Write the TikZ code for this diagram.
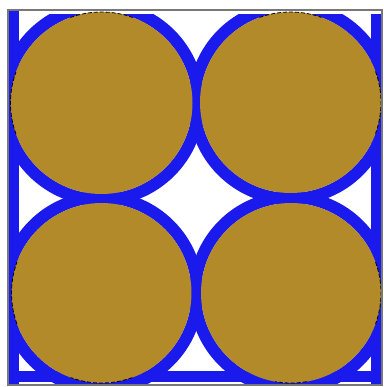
\documentclass[tikz,border=0pt]{standalone}
\definecolor{grain}{RGB}{178,138,42}
\definecolor{water}{RGB}{26,26,236}
\definecolor{framegray}{RGB}{120,120,120}
\begin{document}
\begin{tikzpicture}[x=1pt,y=-1pt,
  grainfill/.style={fill=grain},
  film/.style={draw=water,line width=12pt},
  band/.style={fill=water},
  outline/.style={draw=black,line width=0.8pt,dash pattern=on 4pt off 2pt}]
\useasboundingbox (0,0) rectangle (383,387);
\fill[white] (0,0) rectangle (383,387);
\begin{scope}
  \clip (8,10) rectangle (382,385);
  % water films along the sides
  \fill[band] (9,10) rectangle (19,385);
  \fill[band] (371,14) rectangle (381,385);
  \fill[band] (9,371) rectangle (381,382);
  % water films around the grains
  \begin{scope}
    \clip (8,15) rectangle (382,385);
    \draw[film] (101.5,103) circle (97);
    \draw[film] (290.5,102.5) circle (96.5);
    \draw[film] (101.5,293) circle (96);
    \draw[film] (291,293) circle (96);
  \end{scope}
  % grains
  \fill[grainfill] (101.5,103) circle (91);
  \fill[grainfill] (290.5,102.5) circle (90.5);
  \fill[grainfill] (101.5,293) circle (90);
  \fill[grainfill] (291,293) circle (90);
  % dashed grain outlines where they touch the box
  \draw[outline] (101.5,103) ++(-110:91) arc[start angle=-110,end angle=-70,radius=91];
  \draw[outline] (101.5,103) ++(160:91) arc[start angle=160,end angle=200,radius=91];
  \draw[outline] (290.5,102.5) ++(-110:90.5) arc[start angle=-110,end angle=-70,radius=90.5];
  \draw[outline] (290.5,102.5) ++(-20:90.5) arc[start angle=-20,end angle=20,radius=90.5];
  \draw[outline] (101.5,293) ++(160:90) arc[start angle=160,end angle=200,radius=90];
  \draw[outline] (101.5,293) ++(70:90) arc[start angle=70,end angle=110,radius=90];
  \draw[outline] (291,293) ++(-20:90) arc[start angle=-20,end angle=20,radius=90];
  \draw[outline] (291,293) ++(80:90) arc[start angle=80,end angle=100,radius=90];
\end{scope}
\draw[framegray,line width=1.2pt] (8,10) rectangle (382,385);
\end{tikzpicture}
\end{document}
